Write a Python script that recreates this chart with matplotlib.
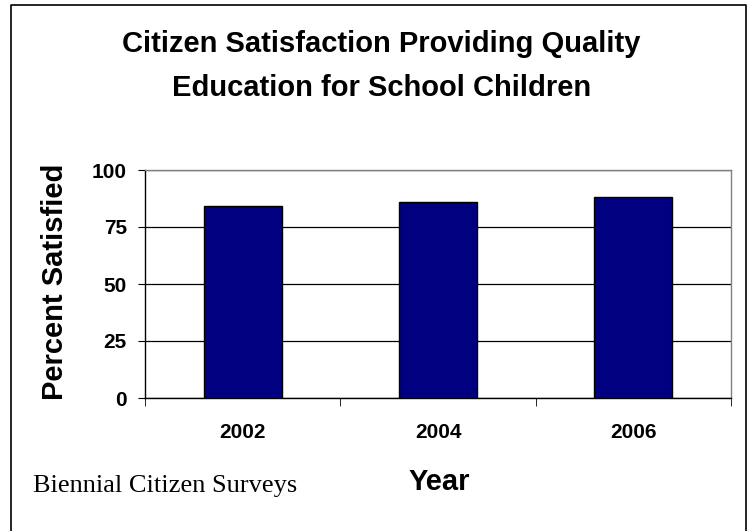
import matplotlib
matplotlib.use('Agg')
import matplotlib.pyplot as plt
from matplotlib.lines import Line2D

### chart data
years = ['2002', '2004', '2006']
satisfied = [84, 86, 88]
y_ticks = [0, 25, 50, 75, 100]

bar_color = '#000080'
W, H = 750.0, 531.0

fig = plt.figure(figsize=(7.5, 5.31), dpi=100)
ax = fig.add_axes([145 / W, 1 - 398 / H, 586 / W, 228 / H])

### bars
x = range(len(years))
ax.bar(x, satisfied, width=0.4, color=bar_color, edgecolor='black', linewidth=1, zorder=3)

### axes limits and grid
ax.set_xlim(-0.5, len(years) - 0.5)
ax.set_ylim(0, 100)
ax.set_yticks(y_ticks)
ax.set_yticklabels([str(t) for t in y_ticks], fontsize=15, fontweight='bold', family='Liberation Sans')
ax.yaxis.grid(True, color='black', linewidth=0.9, zorder=0)

ax.set_xticks(list(x))
ax.set_xticklabels(years, fontsize=15, fontweight='bold', family='Liberation Sans')
ax.set_xticks([i - 0.5 for i in range(len(years) + 1)], minor=True)
ax.tick_params(axis='x', which='major', length=0, pad=18)
ax.tick_params(axis='x', which='minor', length=6, direction='out', color='black')
ax.tick_params(axis='y', length=5, direction='out', pad=8, color='black')

### spines
ax.spines['left'].set_color('black')
ax.spines['bottom'].set_color('black')
ax.spines['top'].set_color('#808080')
ax.spines['right'].set_color('#808080')
for s in ax.spines.values():
    s.set_linewidth(1)

### texts
fig.text(381.5 / W, 1 - 66 / H, 'Citizen Satisfaction Providing Quality\nEducation for School Children',
         ha='center', va='center', fontsize=21, fontweight='bold', family='Liberation Sans',
         linespacing=1.75)
fig.text(55 / W, 1 - 282 / H, 'Percent Satisfied', rotation=90, ha='center', va='center',
         fontsize=21, fontweight='bold', family='Liberation Sans')
fig.text(439 / W, 1 - 482 / H, 'Year', ha='center', va='center', fontsize=21,
         fontweight='bold', family='Liberation Sans')
fig.text(33 / W, 1 - 486 / H, 'Biennial Citizen Surveys', ha='left', va='center',
         fontsize=19, family='Liberation Serif')

### outer frame (bottom edge falls off the picture)
fx = [11 / W, 11 / W, 746 / W, 746 / W]
fy = [0, 1 - 5 / H, 1 - 5 / H, 0]
fig.add_artist(Line2D(fx, fy, color='black', linewidth=1.2, transform=fig.transFigure))

plt.savefig('out.png', dpi=100)
